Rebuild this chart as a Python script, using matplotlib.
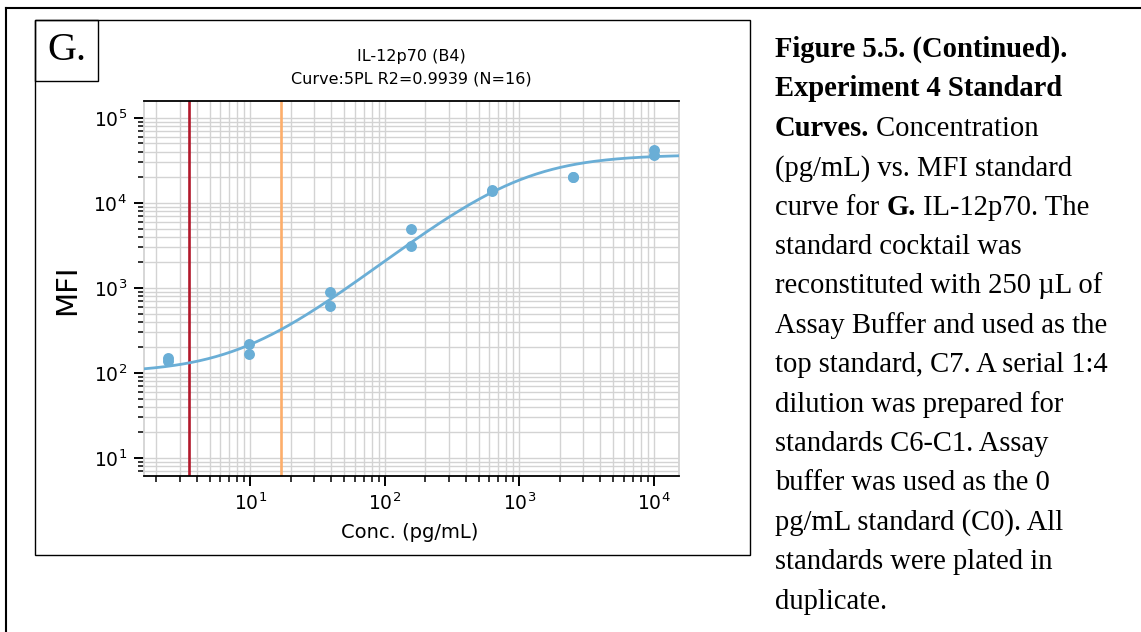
import numpy as np
import matplotlib
matplotlib.use("Agg")
import matplotlib.pyplot as plt
from matplotlib.patches import Rectangle
from matplotlib.lines import Line2D

# ---------------- data ----------------
conc = [2.44, 2.44, 9.77, 9.77, 39.06, 39.06, 156.25, 156.25,
        625.0, 625.0, 2500.0, 2500.0, 10000.0, 10000.0]
mfi = [150, 140, 221, 168, 906, 608, 4940, 3150,
       14200, 14000, 20200, 20000, 41600, 37000]
# 5PL fit parameters (lower, upper, midpoint, slope, asymmetry)
fit_a = 100.0
fit_d = 37000.0
fit_c = 1000.0
fit_b = 1.25
fit_g = 1.0
lod_conc = 3.52       # red line
lloq_conc = 16.9      # orange line
title_lines = ["IL-12p70 (B4)", "Curve:5PL R2=0.9939 (N=16)"]
xlabel = "Conc. (pg/mL)"
ylabel = "MFI"
caption = [
    [("Figure 5.5. (Continued).", True)],
    [("Experiment 4 Standard", True)],
    [("Curves.", True), (" Concentration", False)],
    [("(pg/mL) vs. MFI standard", False)],
    [("curve for ", False), ("G.", True), (" IL-12p70. The", False)],
    [("standard cocktail was", False)],
    [("reconstituted with 250 \u00b5L of", False)],
    [("Assay Buffer and used as the", False)],
    [("top standard, C7. A serial 1:4", False)],
    [("dilution was prepared for", False)],
    [("standards C6-C1. Assay", False)],
    [("buffer was used as the 0", False)],
    [("pg/mL standard (C0). All", False)],
    [("standards were plated in", False)],
    [("duplicate.", False)],
]

W, H = 1141, 632
fig = plt.figure(figsize=(W / 100, H / 100), dpi=100)


def fx(x):
    return x / W


def fy(y):
    return 1 - y / H


# outer frame
fig.add_artist(Line2D([fx(6), fx(1141)], [fy(8), fy(8)], color="black", lw=1.5))
fig.add_artist(Line2D([fx(6), fx(6)], [fy(8), fy(632)], color="black", lw=1.5))
# panel box
fig.add_artist(Rectangle((fx(35), fy(555)), (750 - 35) / W, (555 - 20) / H,
                         fill=False, ec="black", lw=1.0))
# G. box
fig.add_artist(Rectangle((fx(35), fy(81)), (98 - 35) / W, (81 - 20) / H,
                         fill=False, ec="black", lw=1.0))
fig.text(fx(67), fy(50), "G.", family="Liberation Serif", fontsize=29,
         ha="center", va="center")

# ---------------- axes ----------------
ax = fig.add_axes([fx(143.5), fy(475.7), (678.6 - 143.5) / W, (475.7 - 101) / H])
ax.set_xscale("log")
ax.set_yscale("log")
ax.set_xlim(1.61, 15300)
ax.set_ylim(6.2, 1.58e5)
ax.grid(True, which="both", color="#d3d3d3", lw=1.0)
ax.set_axisbelow(True)

blue = "#6aaed6"
xs = np.logspace(np.log10(1.61), np.log10(15300), 400)
ys = fit_d + (fit_a - fit_d) / (1 + (xs / fit_c) ** fit_b) ** fit_g
ax.plot(xs, ys, color=blue, lw=2.0, zorder=3)
ax.scatter(conc, mfi, s=62, color=blue, zorder=4, linewidths=0)
ax.axvline(lod_conc, color="#b2182b", lw=1.9, zorder=2)
ax.axvline(lloq_conc, color="#fdae6b", lw=1.9, zorder=2)

for s in ["top", "bottom"]:
    ax.spines[s].set_color("black")
    ax.spines[s].set_linewidth(1.3)
for s in ["left", "right"]:
    ax.spines[s].set_color("#d3d3d3")
    ax.spines[s].set_linewidth(1.3)

ax.tick_params(which="major", length=7, width=1.4, labelsize=13.5, direction="out",
               colors="black", pad=5)
ax.tick_params(which="minor", length=4, width=1.1, direction="out")
ax.tick_params(axis="x", which="both", top=False)
ax.tick_params(axis="y", which="both", right=False)

# titles / labels
fig.text(fx(411), fy(57), title_lines[0], fontsize=11.5, ha="center", va="center")
fig.text(fx(411), fy(78.5), title_lines[1], fontsize=11.5, ha="center", va="center")
fig.text(fx(410), fy(532), xlabel, fontsize=14, ha="center", va="center")
fig.text(fx(67), fy(290), ylabel, fontsize=21, ha="center", va="center", rotation=90)

# ---------------- caption ----------------
renderer = fig.canvas.get_renderer()
x0 = 775
base0 = 57
step = 39.4
for i, segs in enumerate(caption):
    x = x0
    yb = base0 + i * step
    for txt, bold in segs:
        t = fig.text(fx(x), fy(yb), txt, family="Liberation Serif", fontsize=20.6,
                     fontweight="bold" if bold else "normal",
                     ha="left", va="baseline")
        bb = t.get_window_extent(renderer=renderer)
        x += bb.width

fig.savefig("out.png", dpi=100)
